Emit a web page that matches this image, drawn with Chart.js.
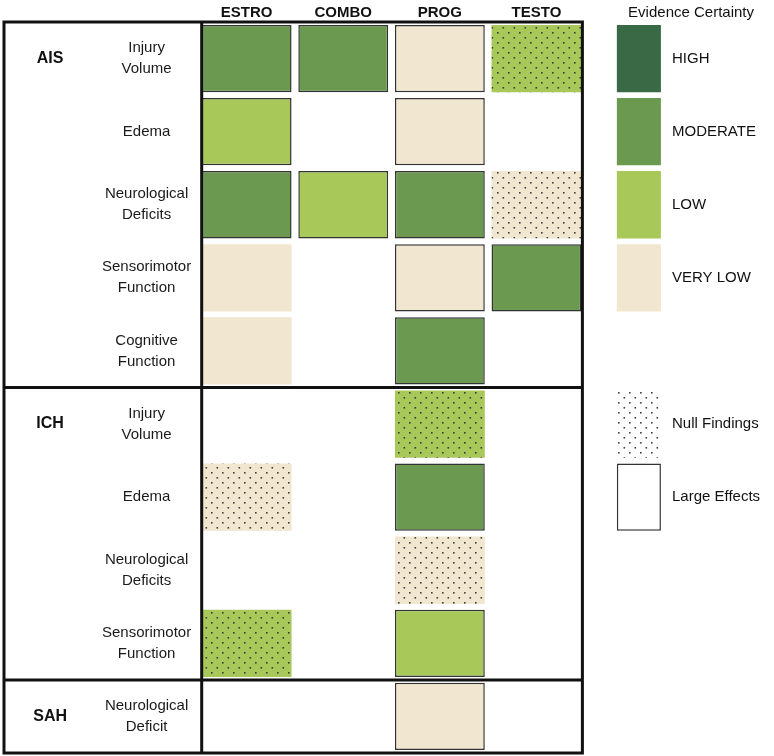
<!DOCTYPE html>
<html lang="en">
<head>
  <meta charset="UTF-8" />
  <title>Evidence Certainty</title>
  <script src="https://cdn.jsdelivr.net/npm/chart.js"></script>
  <style>
    body {
      margin: 0;
      background: #ffffff;
    }
    .wrap {
      width: 774px;
      height: 756px;
    }
  </style>
</head>
<body>
  <div class="wrap"><canvas id="evidenceGrid"></canvas></div>

  <script>
    const treatments = ['ESTRO', 'COMBO', 'PROG', 'TESTO'];
    const outcomes = [
      ['Injury', 'Volume'], 'Edema', ['Neurological', 'Deficits'], ['Sensorimotor', 'Function'], ['Cognitive', 'Function'],
      ['Injury', 'Volume'], 'Edema', ['Neurological', 'Deficits'], ['Sensorimotor', 'Function'],
      ['Neurological', 'Deficit']
    ];
    const strokeTypes = ['AIS', '', '', '', '', 'ICH', '', '', '', 'SAH'];

    // certainty: 4 high, 3 moderate, 2 low, 1 very low, 0 nothing reported
    const estro = [3, 2, 3, 1, 1, 0, 1, 0, 2, 0];
    const combo = [3, 0, 2, 0, 0, 0, 0, 0, 0, 0];
    const prog  = [1, 1, 3, 1, 3, 2, 3, 1, 2, 1];
    const testo = [2, 0, 1, 3, 0, 0, 0, 0, 0, 0];

    // 1 = null findings (dotted)
    const estroNull = [0, 0, 0, 0, 0, 0, 1, 0, 1, 0];
    const comboNull = [0, 0, 0, 0, 0, 0, 0, 0, 0, 0];
    const progNull  = [0, 0, 0, 0, 0, 1, 0, 1, 0, 0];
    const testoNull = [1, 0, 1, 0, 0, 0, 0, 0, 0, 0];

    // 1 = large effects (outlined)
    const estroLarge = [1, 1, 1, 0, 0, 0, 0, 0, 0, 0];
    const comboLarge = [1, 0, 1, 0, 0, 0, 0, 0, 0, 0];
    const progLarge  = [1, 1, 1, 1, 1, 0, 1, 0, 1, 1];
    const testoLarge = [0, 0, 0, 1, 0, 0, 0, 0, 0, 0];

    const legendNames  = ['HIGH', 'MODERATE', 'LOW', 'VERY LOW', '', 'Null Findings', 'Large Effects', '', '', ''];
    const legendLevels = [4, 3, 2, 1, 0, 0, 0, 0, 0, 0];
    const legendNull   = [0, 0, 0, 0, 0, 1, 0, 0, 0, 0];
    const legendLarge  = [0, 0, 0, 0, 0, 0, 1, 0, 0, 0];
    const legendTitle = 'Evidence Certainty';

    const levelColors = ['#ffffff', '#f1e6cf', '#a8c95a', '#6a994f', '#3a6a45'];
    const FONT = "'Liberation Sans', Arial, sans-serif";

    const certainty = [estro, combo, prog, testo];
    const nullFindings = [estroNull, comboNull, progNull, testoNull];
    const largeEffects = [estroLarge, comboLarge, progLarge, testoLarge];

    const half = 0.465;          // half a cell, in column units
    const legendAt = 4.06;       // legend column centre
    const legendHalf = 0.228;

    function dotted(color) {
      const tile = document.createElement('canvas');
      tile.width = 11;
      tile.height = 10;
      const g = tile.getContext('2d');
      g.fillStyle = color;
      g.fillRect(0, 0, 11, 10);
      g.fillStyle = 'rgba(45,45,45,0.9)';
      g.fillRect(2, 2, 1.6, 1.6);
      g.fillRect(7.5, 7, 1.6, 1.6);
      return g.createPattern(tile, 'repeat');
    }
    const dottedColors = levelColors.map(dotted);

    function column(levels, nulls, larges, centre, w, label) {
      const shown = (i) => levels[i] > 0 || nulls[i] || larges[i];
      return {
        label: label,
        data: levels.map((lv, i) => shown(i) ? [centre - w, centre + w] : null),
        backgroundColor: levels.map((lv, i) => nulls[i] ? dottedColors[lv] : levelColors[lv]),
        borderWidth: larges.map(v => v ? 1.5 : 0),
        borderColor: '#333333',
        borderSkipped: false,
        grouped: false,
        categoryPercentage: 1,
        barPercentage: 0.92
      };
    }

    const datasets = treatments.map((t, c) =>
      column(certainty[c], nullFindings[c], largeEffects[c], c, half, t));
    datasets.push(column(legendLevels, legendNull, legendLarge, legendAt, legendHalf, 'legend'));

    const headers = treatments.concat([legendTitle]);
    const headerAt = treatments.map((t, i) => i).concat([4.6]);

    // vertical axes: no extra room for half labels above/below
    function noPad(s, width) {
      s.width = width;
      s.paddingTop = 0;
      s.paddingBottom = 0;
    }

    const tableLines = {
      id: 'tableLines',
      afterDatasetsDraw(chart) {
        const { ctx, chartArea, scales } = chart;
        const left = scales.yGroup.left + 4;
        const right = scales.x.getPixelForValue(treatments.length - 1 + half) + 1;
        ctx.save();
        ctx.strokeStyle = '#111111';
        ctx.lineWidth = 3;
        ctx.strokeRect(left, chartArea.top, right - left, chartArea.bottom - chartArea.top);
        ctx.beginPath();
        ctx.moveTo(chartArea.left, chartArea.top);
        ctx.lineTo(chartArea.left, chartArea.bottom);
        strokeTypes.forEach((g, i) => {
          if (i > 0 && g) {
            const yy = (scales.y.getPixelForValue(i - 1) + scales.y.getPixelForValue(i)) / 2;
            ctx.moveTo(left, yy);
            ctx.lineTo(right, yy);
          }
        });
        ctx.stroke();
        ctx.restore();
      }
    };

    new Chart(document.getElementById('evidenceGrid'), {
      type: 'bar',
      data: { labels: outcomes, datasets: datasets },
      plugins: [tableLines],
      options: {
        indexAxis: 'y',
        responsive: true,
        maintainAspectRatio: false,
        animation: false,
        events: [],
        layout: { padding: { left: 0, right: 0, top: 0, bottom: 3 } },
        plugins: {
          legend: { display: false },
          tooltip: { enabled: false }
        },
        scales: {
          x: {
            type: 'linear',
            position: 'top',
            min: -half,
            max: 4.32,
            grid: { display: false, drawTicks: false },
            border: { display: false },
            afterBuildTicks(s) {
              s.ticks = headerAt.map(v => ({ value: v }));
            },
            afterFit(s) {
              s.height = 22;
              s.paddingLeft = 0;
              s.paddingRight = 0;
            },
            ticks: {
              autoSkip: false,
              maxRotation: 0,
              minRotation: 0,
              padding: 0.5,
              color: '#111111',
              font: (c) => ({ family: FONT, size: 15, weight: c.index < treatments.length ? 'bold' : 'normal' }),
              callback: (v, i) => headers[i]
            }
          },
          y: {
            type: 'category',
            position: 'left',
            weight: 0,
            offset: true,
            grid: { display: false, drawTicks: false },
            border: { display: false },
            afterFit(s) { noPad(s, 101.7); },
            ticks: {
              autoSkip: false,
              crossAlign: 'center',
              padding: 10.5,
              color: '#1a1a1a',
              font: { family: FONT, size: 15, lineHeight: 1.4 }
            }
          },
          yGroup: {
            type: 'category',
            labels: strokeTypes,
            position: 'left',
            weight: 1,
            offset: true,
            grid: { display: false, drawTicks: false },
            border: { display: false },
            afterFit(s) { noPad(s, 100); },
            ticks: {
              autoSkip: false,
              crossAlign: 'center',
              padding: 33,
              color: '#111111',
              font: { family: FONT, size: 16, weight: 'bold' }
            }
          },
          y2: {
            type: 'category',
            labels: legendNames,
            position: 'right',
            offset: true,
            grid: { display: false, drawTicks: false },
            border: { display: false },
            afterFit(s) { noPad(s, 110); },
            ticks: {
              autoSkip: false,
              crossAlign: 'near',
              padding: 8,
              color: '#111111',
              font: { family: FONT, size: 15 }
            }
          }
        }
      }
    });
  </script>
</body>
</html>
